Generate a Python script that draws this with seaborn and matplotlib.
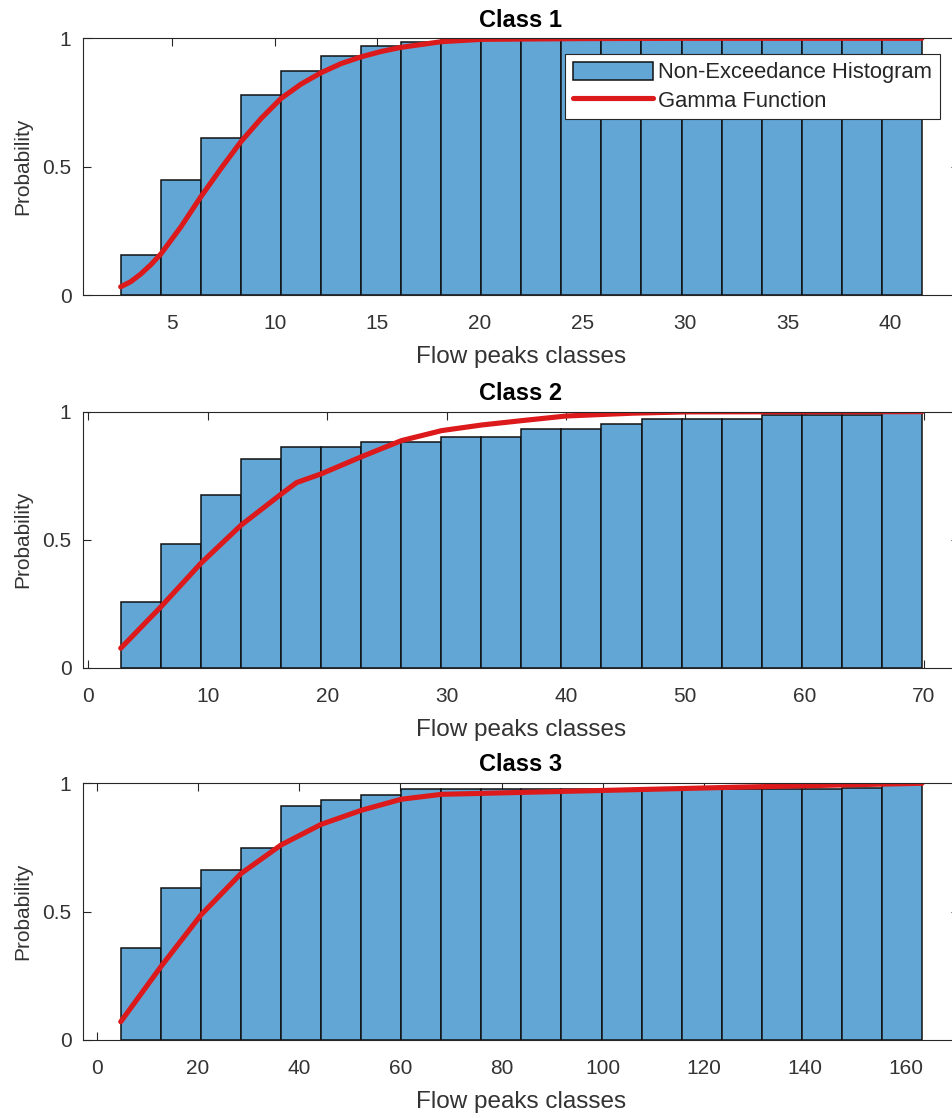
import numpy as np
import pandas as pd
import matplotlib
matplotlib.use("Agg")
import matplotlib.pyplot as plt
from matplotlib.patches import Patch
from matplotlib.lines import Line2D
import seaborn as sns

# ---- data -------------------------------------------------------------
# class 1: 20 bins of flow peaks, cumulative (non-exceedance) frequencies
c1_range = (2.48, 41.55)
c1_hist = [0.155, 0.449, 0.613, 0.780, 0.874, 0.930, 0.970, 0.987, 0.995, 0.997,
           0.998, 0.998, 1.0, 1.0, 1.0, 1.0, 1.0, 1.0, 1.0, 1.0]
c1_fit_x = [2.48, 2.97, 3.46, 3.95, 4.44, 5.42, 6.39, 7.37, 8.34, 9.33, 10.30,
            11.28, 12.25, 13.24, 14.21, 15.19, 16.16, 18.12, 20.07, 25.0, 30.0,
            41.55]
c1_fit_y = [0.032, 0.052, 0.082, 0.118, 0.160, 0.266, 0.383, 0.493, 0.597, 0.688,
            0.766, 0.822, 0.866, 0.902, 0.928, 0.949, 0.965, 0.987, 0.996, 0.999,
            1.0, 1.0]

# class 2
c2_range = (2.71, 69.83)
c2_hist = [0.257, 0.482, 0.676, 0.814, 0.863, 0.863, 0.883, 0.883, 0.900, 0.902,
           0.932, 0.932, 0.952, 0.970, 0.970, 0.970, 0.988, 0.988, 0.988, 1.0]
c2_fit_x = [2.71, 6.08, 9.43, 12.80, 16.15, 17.44, 19.50, 22.88, 26.23, 29.60,
            32.97, 36.32, 40.03, 45.6, 50.07, 69.83]
c2_fit_y = [0.076, 0.238, 0.408, 0.557, 0.678, 0.723, 0.757, 0.824, 0.887, 0.926,
            0.948, 0.965, 0.983, 0.994, 0.999, 1.0]

# class 3
c3_range = (4.75, 163.1)
c3_hist = [0.360, 0.592, 0.661, 0.748, 0.910, 0.935, 0.956, 0.978, 0.978, 0.978,
           0.978, 0.978, 0.978, 0.978, 0.978, 0.978, 0.978, 0.978, 0.980, 1.0]
c3_fit_x = [4.75, 12.70, 20.60, 28.56, 36.46, 44.36, 52.34, 60.24, 68.2, 91.5,
            127.0, 163.1]
c3_fit_y = [0.071, 0.286, 0.487, 0.649, 0.760, 0.840, 0.895, 0.938, 0.957, 0.968,
            0.985, 1.0]

titles = ["Class 1", "Class 2", "Class 3"]
xticks = [np.arange(5, 41, 5), np.arange(0, 71, 10), np.arange(0, 161, 20)]
xlims = [(0.62, 43.36), (-0.49, 72.93), (-2.80, 170.4)]
yticks = [0, 0.5, 1]
ytick_labels = ["0", "0.5", "1"]
x_label = "Flow peaks classes"
y_label = "Probability"
legend_labels = ["Non-Exceedance Histogram", "Gamma Function"]

# ---- style ------------------------------------------------------------
sns.set_style("ticks")
plt.rcParams["font.family"] = ["Liberation Sans", "DejaVu Sans"]
bar_color = "#62a6d6"
edge_color = "#111111"
line_color = "#dc1a1c"
text_color = "#333333"

fig = plt.figure(figsize=(9.53, 11.18), dpi=100)
positions = [
    [0.0866, 0.7361, 0.9197, 0.2296],
    [0.0866, 0.4028, 0.9197, 0.2290],
    [0.0866, 0.0698, 0.9197, 0.2296],
]

panels = [
    (c1_range, c1_hist, c1_fit_x, c1_fit_y),
    (c2_range, c2_hist, c2_fit_x, c2_fit_y),
    (c3_range, c3_hist, c3_fit_x, c3_fit_y),
]

for i, (rng, hist, fx, fy) in enumerate(panels):
    ax = fig.add_axes(positions[i])
    edges = np.linspace(rng[0], rng[1], len(hist) + 1)
    bins_df = pd.DataFrame({"center": (edges[:-1] + edges[1:]) / 2,
                            "prob": hist})
    fit_df = pd.DataFrame({"x": fx, "y": fy})
    # contiguous bars (width = one bin) on the numeric x axis
    sns.barplot(data=bins_df, x="center", y="prob", ax=ax, native_scale=True,
                width=1, color=bar_color, saturation=1, edgecolor=edge_color,
                linewidth=1.1, errorbar=None)
    sns.lineplot(data=fit_df, x="x", y="y", ax=ax, color=line_color,
                 linewidth=3.7, sort=False, estimator=None)

    ax.set_xlim(*xlims[i])
    ax.set_ylim(0, 1)
    ax.set_xticks(xticks[i])
    ax.set_xticklabels([str(v) for v in xticks[i]])
    ax.set_yticks(yticks)
    ax.set_yticklabels(ytick_labels)
    ax.tick_params(direction="in", top=True, right=True, length=5.8, width=0.8,
                   color="#262626", labelsize=15, labelcolor=text_color)
    ax.tick_params(axis="x", pad=14)
    ax.tick_params(axis="y", pad=8)
    for sp in ax.spines.values():
        sp.set_visible(True)
        sp.set_linewidth(0.8)
        sp.set_color("#262626")
    ax.set_xlabel(x_label, fontsize=17.5, color=text_color, labelpad=9)
    ax.set_ylabel(y_label, fontsize=15, color=text_color, labelpad=7)
    ax.set_title(titles[i], fontsize=17, fontweight="bold", color="black",
                 pad=8.5)

    if i == 0:
        handles = [
            Patch(facecolor=bar_color, edgecolor=edge_color, linewidth=1.1),
            Line2D([0], [0], color=line_color, linewidth=3.7),
        ]
        leg = ax.legend(handles, legend_labels, loc="upper right",
                        bbox_to_anchor=(0.9783, 0.9388), borderaxespad=0,
                        fontsize=15.8, frameon=True, fancybox=False,
                        framealpha=1, edgecolor="#262626", borderpad=0.35,
                        labelspacing=0.3, handlelength=3.65, handleheight=0.9,
                        handletextpad=0.25)
        leg.get_frame().set_linewidth(0.8)

fig.savefig("out.png", dpi=100)
